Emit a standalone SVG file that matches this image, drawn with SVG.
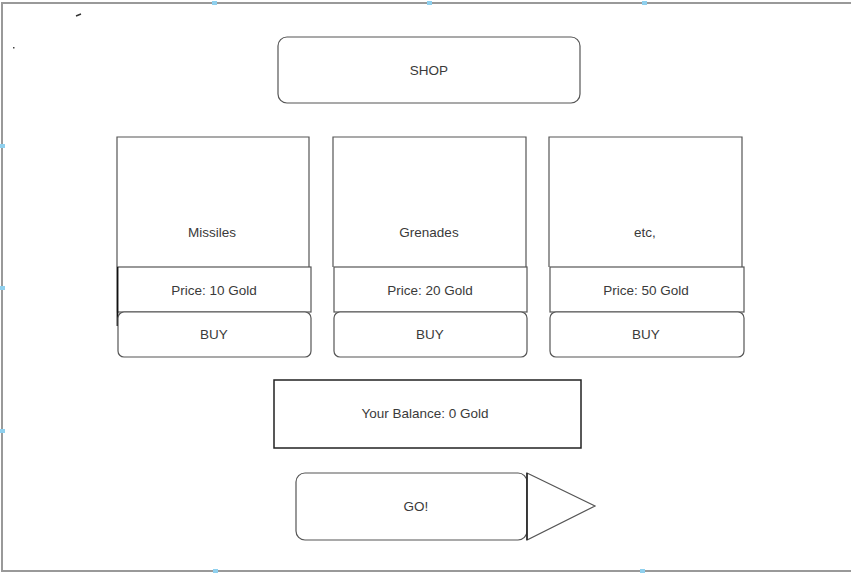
<svg xmlns="http://www.w3.org/2000/svg" width="851" height="573" viewBox="0 0 851 573">
<style>
.box{fill:#fff;stroke:#555;stroke-width:1.2}
.dark{fill:#fff;stroke:#222;stroke-width:1.5}
.frame{fill:none;stroke:#999;stroke-width:2}
.lbl{font-family:"Liberation Sans",Arial,sans-serif;font-size:13.5px;fill:#3a3a3a;text-anchor:middle;dominant-baseline:central}
.hdl{fill:#8fd0ee}
</style>
<rect width="851" height="573" fill="#fff"/>
<g id="frame">
<path class="frame" d="M851,3 H2 V571 H851"/>
<rect class="hdl" x="212" y="1" width="5" height="4"/>
<rect class="hdl" x="427" y="1" width="5" height="4"/>
<rect class="hdl" x="642" y="1" width="5" height="4"/>
<rect class="hdl" x="0" y="144" width="5" height="4"/>
<rect class="hdl" x="0" y="286" width="5" height="4"/>
<rect class="hdl" x="0" y="429" width="5" height="4"/>
<rect class="hdl" x="213" y="569" width="5" height="4"/>
<rect class="hdl" x="640" y="569" width="5" height="4"/>
<path d="M76,16 L81,14" stroke="#333" stroke-width="1.5"/>
<rect x="13" y="47" width="1.5" height="1.5" fill="#444"/>
</g>
<g id="connectors"></g>
<g id="shop">
<rect class="box" x="278" y="37" width="302" height="66" rx="9"/>
<text class="lbl" x="429" y="70">SHOP</text>
</g>
<g id="missiles">
<path class="box" d="M117,267 V137 H309 V267" />
<text class="lbl" x="212" y="232">Missiles</text>
</g>
<g id="price1">
<rect class="box" x="117.5" y="267" width="193.5" height="45"/>
<line x1="117.5" y1="267" x2="117.5" y2="326" stroke="#111" stroke-width="1.8"/>
<text class="lbl" x="214" y="290">Price: 10 Gold</text>
</g>
<g id="buy1">
<rect class="box" x="118" y="312" width="193" height="45" rx="6"/>
<text class="lbl" x="214" y="334">BUY</text>
</g>
<g id="grenades">
<path class="box" d="M333,267 V137 H526 V267"/>
<text class="lbl" x="429" y="232">Grenades</text>
</g>
<g id="price2">
<rect class="box" x="334" y="267" width="193" height="45"/>
<text class="lbl" x="430" y="290">Price: 20 Gold</text>
</g>
<g id="buy2">
<rect class="box" x="334" y="312" width="193" height="45" rx="6"/>
<text class="lbl" x="430" y="334">BUY</text>
</g>
<g id="etc">
<path class="box" d="M549,267 V137 H742 V267"/>
<text class="lbl" x="645" y="232">etc,</text>
</g>
<g id="price3">
<rect class="box" x="550" y="267" width="194" height="45"/>
<text class="lbl" x="646" y="290">Price: 50 Gold</text>
</g>
<g id="buy3">
<rect class="box" x="550" y="312" width="194" height="45" rx="6"/>
<text class="lbl" x="646" y="334">BUY</text>
</g>
<g id="balance">
<rect class="dark" x="274" y="380" width="307" height="68"/>
<text class="lbl" x="425" y="413">Your Balance: 0 Gold</text>
</g>
<g id="go">
<rect class="box" x="296" y="473" width="231" height="67" rx="9"/>
<path class="box" d="M527,473 L595,506 L527,540 Z"/>
<line x1="527" y1="473" x2="527" y2="540" stroke="#222" stroke-width="1.5"/>
<text class="lbl" x="416" y="506">GO!</text>
</g>
</svg>
